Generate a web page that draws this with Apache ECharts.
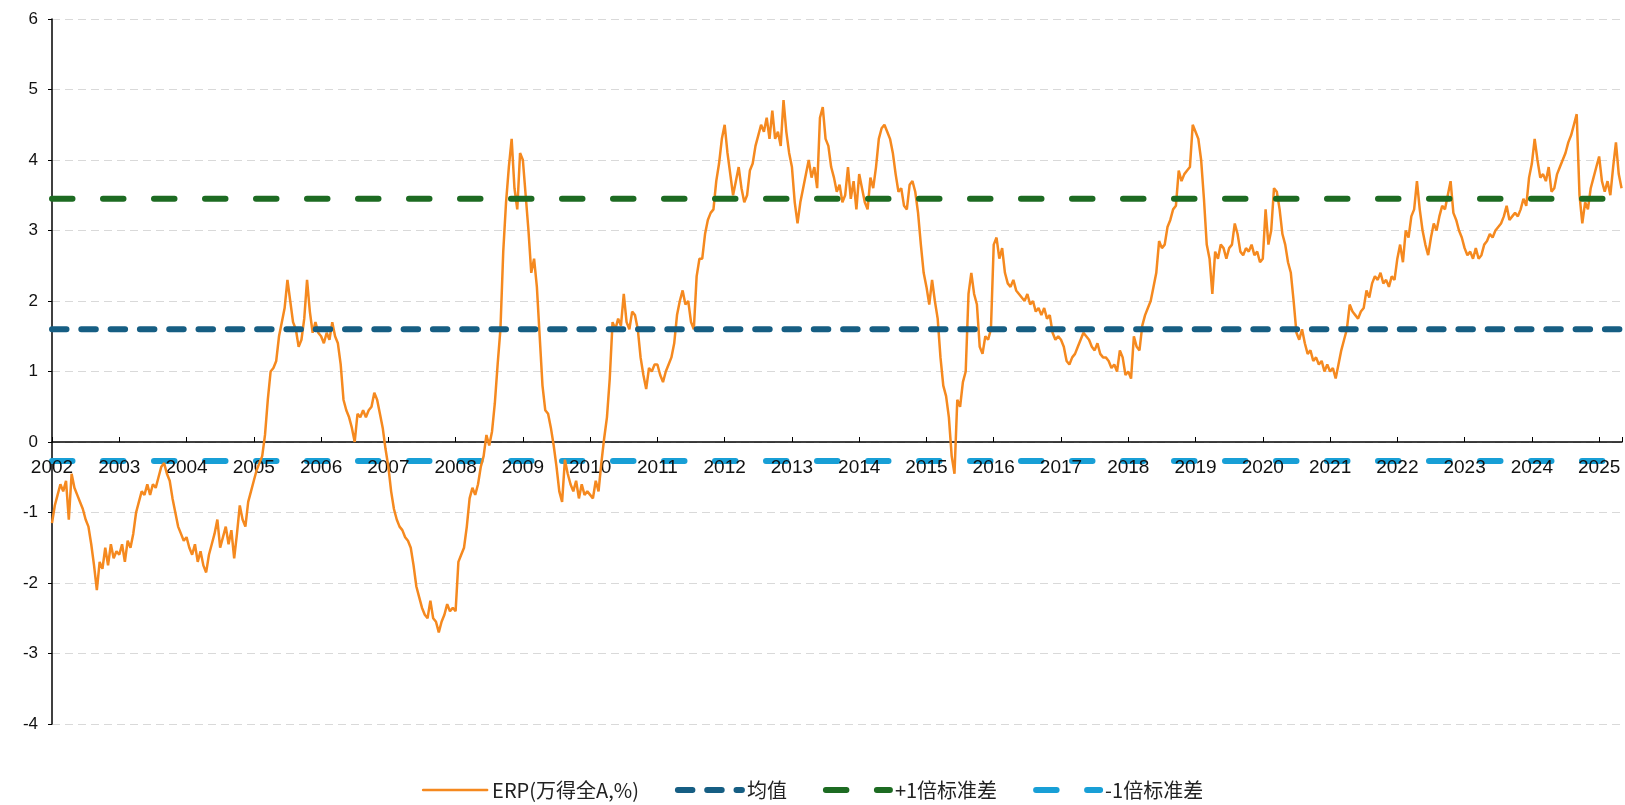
<!DOCTYPE html>
<html>
<head>
<meta charset="utf-8">
<title>ERP</title>
<script src="https://cdn.jsdelivr.net/npm/echarts@6/dist/echarts.min.js"></script>
<style>
html,body{margin:0;padding:0;background:#fff}
#main{width:1625px;height:805px}
</style>
</head>
<body>
<div id="main"></div>
<script>
// ERP 半月读数（每年24个点，从图上估读）
var erp2002 = [-1.15,-0.9,-0.75,-0.6,-0.7,-0.55,-1.1,-0.45,-0.65,-0.75,-0.85,-0.95,-1.1,-1.2,-1.45,-1.75,-2.1,-1.7,-1.8,-1.5,-1.75,-1.45,-1.65,-1.55];
var erp2003 = [-1.6,-1.45,-1.7,-1.4,-1.5,-1.3,-1.0,-0.85,-0.7,-0.75,-0.6,-0.75,-0.6,-0.65,-0.5,-0.35,-0.3,-0.45,-0.55,-0.8,-1.0,-1.2,-1.3,-1.4];
var erp2004 = [-1.35,-1.5,-1.6,-1.45,-1.7,-1.55,-1.75,-1.85,-1.6,-1.45,-1.3,-1.1,-1.5,-1.35,-1.2,-1.45,-1.25,-1.65,-1.3,-0.9,-1.1,-1.2,-0.85,-0.7];
var erp2005 = [-0.55,-0.4,-0.3,-0.2,0.1,0.6,1.0,1.05,1.15,1.5,1.7,1.9,2.3,2.0,1.7,1.6,1.35,1.45,1.75,2.3,1.85,1.55,1.7,1.55];
var erp2006 = [1.5,1.4,1.55,1.45,1.7,1.5,1.4,1.1,0.6,0.45,0.35,0.2,0.0,0.4,0.35,0.45,0.35,0.45,0.5,0.7,0.6,0.4,0.2,-0.1];
var erp2007 = [-0.35,-0.7,-0.95,-1.1,-1.2,-1.25,-1.35,-1.4,-1.5,-1.75,-2.05,-2.2,-2.35,-2.45,-2.5,-2.25,-2.5,-2.55,-2.7,-2.55,-2.45,-2.3,-2.4,-2.35];
var erp2008 = [-2.4,-1.7,-1.6,-1.5,-1.2,-0.8,-0.65,-0.75,-0.6,-0.35,-0.2,0.1,-0.05,0.15,0.55,1.1,1.6,2.7,3.4,3.9,4.3,3.6,3.3,4.1];
var erp2009 = [4.0,3.5,3.0,2.4,2.6,2.2,1.5,0.8,0.45,0.4,0.2,-0.05,-0.35,-0.7,-0.85,-0.25,-0.45,-0.6,-0.7,-0.55,-0.8,-0.6,-0.75,-0.7];
var erp2010 = [-0.75,-0.8,-0.55,-0.7,-0.3,0.05,0.35,0.9,1.7,1.6,1.75,1.65,2.1,1.7,1.6,1.85,1.8,1.6,1.2,0.95,0.75,1.05,1.0,1.1];
var erp2011 = [1.1,0.95,0.85,1.0,1.1,1.2,1.4,1.8,2.0,2.15,1.95,2.0,1.7,1.6,2.35,2.6,2.6,2.95,3.15,3.25,3.3,3.7,3.95,4.3];
var erp2012 = [4.5,4.1,3.8,3.5,3.7,3.9,3.6,3.4,3.5,3.85,3.95,4.2,4.35,4.5,4.4,4.6,4.3,4.7,4.3,4.4,4.2,4.85,4.4,4.1];
var erp2013 = [3.9,3.4,3.1,3.4,3.6,3.8,4.0,3.75,3.9,3.6,4.6,4.75,4.3,4.2,3.9,3.75,3.55,3.65,3.4,3.5,3.9,3.45,3.7,3.3];
var erp2014 = [3.8,3.6,3.4,3.3,3.75,3.6,3.9,4.3,4.45,4.5,4.4,4.3,4.1,3.8,3.55,3.6,3.35,3.3,3.65,3.7,3.55,3.25,2.8,2.4];
var erp2015 = [2.2,1.95,2.3,2.0,1.75,1.2,0.8,0.65,0.35,-0.2,-0.45,0.6,0.5,0.85,1.0,2.1,2.4,2.1,1.95,1.35,1.25,1.5,1.45,1.6];
var erp2016 = [2.8,2.9,2.6,2.75,2.4,2.25,2.2,2.3,2.15,2.1,2.05,2.0,2.1,1.95,2.0,1.85,1.9,1.8,1.9,1.75,1.8,1.55,1.45,1.5];
var erp2017 = [1.45,1.35,1.15,1.1,1.2,1.25,1.35,1.45,1.55,1.5,1.45,1.35,1.3,1.4,1.25,1.2,1.2,1.15,1.05,1.1,1.0,1.3,1.2,0.95];
var erp2018 = [1.0,0.9,1.5,1.35,1.3,1.65,1.8,1.9,2.0,2.2,2.4,2.85,2.75,2.8,3.05,3.15,3.3,3.35,3.85,3.7,3.8,3.85,3.9,4.5];
var erp2019 = [4.4,4.3,4.0,3.45,2.8,2.6,2.1,2.7,2.6,2.8,2.75,2.6,2.75,2.8,3.1,2.95,2.7,2.65,2.75,2.7,2.8,2.65,2.7,2.55];
var erp2020 = [2.6,3.3,2.8,3.0,3.6,3.55,3.3,2.95,2.8,2.55,2.4,2.0,1.55,1.45,1.6,1.4,1.25,1.3,1.15,1.2,1.1,1.15,1.0,1.1];
var erp2021 = [1.0,1.05,0.9,1.1,1.3,1.45,1.6,1.95,1.85,1.8,1.75,1.85,1.9,2.15,2.05,2.25,2.35,2.3,2.4,2.25,2.3,2.2,2.35,2.3];
var erp2022 = [2.6,2.8,2.55,3.0,2.9,3.2,3.3,3.7,3.3,3.0,2.8,2.65,2.9,3.1,3.0,3.2,3.35,3.3,3.5,3.7,3.25,3.15,3.0,2.9];
var erp2023 = [2.75,2.65,2.7,2.6,2.75,2.6,2.65,2.8,2.85,2.95,2.9,3.0,3.05,3.1,3.2,3.35,3.15,3.2,3.25,3.2,3.3,3.45,3.35,3.75];
var erp2024 = [3.95,4.3,4.0,3.75,3.8,3.7,3.9,3.55,3.6,3.8,3.9,4.0,4.1,4.25,4.35,4.5,4.65,3.5,3.1,3.4,3.3,3.6,3.75,3.9];
var erp2025 = [4.05,3.7,3.55,3.7,3.5,3.9,4.25,3.8,3.6];

var erpYears = [erp2002,erp2003,erp2004,erp2005,erp2006,erp2007,erp2008,erp2009,erp2010,erp2011,erp2012,erp2013,
                erp2014,erp2015,erp2016,erp2017,erp2018,erp2019,erp2020,erp2021,erp2022,erp2023,erp2024,erp2025];

var startYear = 2002;
var endYear = 2025.34;
var meanValue = 1.60;
var upperValue = 3.45;
var lowerValue = -0.27;

var seriesNames = ['ERP(万得全A,%)', '均值', '+1倍标准差', '-1倍标准差'];

var erpData = [];
for (var y = 0; y < erpYears.length; y++) {
  for (var i = 0; i < erpYears[y].length; i++) {
    erpData.push([startYear + y + i / 24, erpYears[y][i]]);
  }
}

function flatLine(v) {
  return [[startYear, v], [endYear, v]];
}

var myChart = echarts.init(document.getElementById('main'));

myChart.setOption({
  animation: false,
  backgroundColor: '#fff',
  grid: {
    left: 52,
    right: 0,
    top: 19,
    bottom: 81
  },
  legend: {
    bottom: 0,
    left: 'center',
    itemWidth: 64,
    itemHeight: 20,
    itemGap: 36,
    itemStyle: { opacity: 0 },
    lineStyle: { width: 'inherit', type: 'inherit', cap: 'round' },
    textStyle: {
      fontFamily: 'Noto Sans CJK SC',
      fontSize: 20,
      color: '#222'
    },
    data: seriesNames
  },
  xAxis: {
    type: 'value',
    min: startYear,
    max: endYear,
    interval: 1,
    z: 5,
    offset: -282,   // 放到 y=0 的位置
    axisLine: { onZero: false, lineStyle: { color: '#000', width: 1.5 } },
    axisTick: { inside: true, length: 5, lineStyle: { color: '#000' } },
    splitLine: { show: false },
    axisLabel: {
      margin: 16,
      fontFamily: 'Liberation Sans',
      fontSize: 19,
      color: '#111',
      formatter: function (v) {
        return Math.abs(v - Math.round(v)) < 1e-6 ? String(Math.round(v)) : '';
      }
    }
  },
  yAxis: {
    type: 'value',
    min: -4,
    max: 6,
    interval: 1,
    axisLine: { show: true, lineStyle: { color: '#000', width: 1.5 } },
    axisTick: { show: true, length: 4, lineStyle: { color: '#000' } },
    splitLine: { show: true, lineStyle: { color: '#d9d9d9', type: [8, 5], width: 1 } },
    axisLabel: {
      margin: 14,
      fontFamily: 'Liberation Sans',
      fontSize: 17,
      color: '#111'
    }
  },
  series: [
    {
      name: seriesNames[0],
      type: 'line',
      data: erpData,
      symbol: 'none',
      z: 6,
      lineStyle: { color: '#f5891f', width: 2.5 },
      itemStyle: { color: '#f5891f' }
    },
    {
      name: seriesNames[1],
      type: 'line',
      data: flatLine(meanValue),
      symbol: 'none',
      z: 7,
      lineStyle: { color: '#165e83', width: 6, type: [14.5, 14.8], cap: 'round' },
      itemStyle: { color: '#165e83' }
    },
    {
      name: seriesNames[2],
      type: 'line',
      data: flatLine(upperValue),
      symbol: 'none',
      z: 7,
      lineStyle: { color: '#1d6b22', width: 6, type: [20.5, 30.5], cap: 'round' },
      itemStyle: { color: '#1d6b22' }
    },
    {
      name: seriesNames[3],
      type: 'line',
      data: flatLine(lowerValue),
      symbol: 'none',
      z: 3,
      lineStyle: { color: '#189fd6', width: 6, type: [20.5, 30.5], cap: 'round' },
      itemStyle: { color: '#189fd6' }
    }
  ]
});
</script>
</body>
</html>
